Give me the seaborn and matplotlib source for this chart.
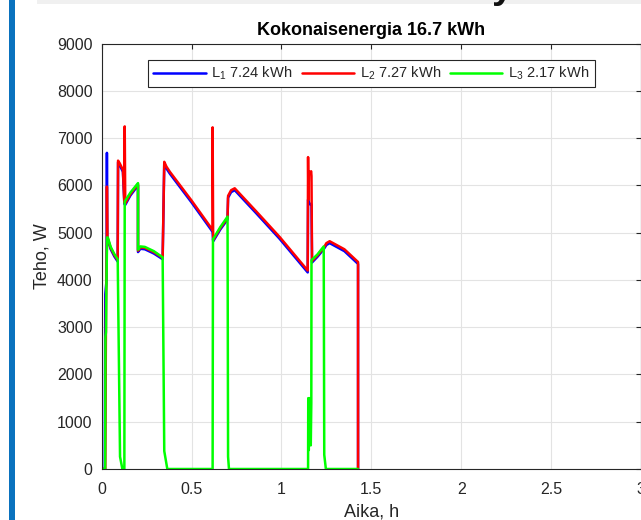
import matplotlib
matplotlib.use("Agg")
import matplotlib.pyplot as plt
from matplotlib.lines import Line2D
from matplotlib.patches import Rectangle
import numpy as np
import pandas as pd
import seaborn as sns

# ---- data ----
t_L1 = [0.000, 0.017, 0.020, 0.027, 0.029, 0.031, 0.034, 0.050, 0.070, 0.089, 0.091, 0.100,
        0.118, 0.126, 0.131, 0.160, 0.202, 0.202, 0.215, 0.240, 0.290, 0.339, 0.348, 0.360,
        0.379, 0.500, 0.611, 0.617, 0.620, 0.622, 0.660, 0.700, 0.703, 0.720, 0.740, 0.860,
        0.990, 1.146, 1.148, 1.151, 1.160, 1.167, 1.170, 1.200, 1.235, 1.250, 1.268, 1.350,
        1.426, 1.426]
p_L1 = [0, 0, 3700, 4000, 6690, 4860, 4850, 4650, 4500, 4390, 6490, 6430,
        6290, 5610, 5590, 5790, 6000, 4590, 4660, 4650, 4560, 4440, 6460, 6360,
        6250, 5640, 5050, 5010, 4820, 4830, 5070, 5280, 5740, 5860, 5900, 5410,
        4870, 4160, 5700, 5650, 5600, 5600, 4370, 4490, 4650, 4740, 4780, 4610,
        4340, 0]

t_L2 = [0.000, 0.020, 0.024, 0.029, 0.029, 0.031, 0.034, 0.050, 0.070, 0.089, 0.091, 0.100,
        0.118, 0.126, 0.128, 0.131, 0.160, 0.202, 0.202, 0.215, 0.240, 0.290, 0.339, 0.348,
        0.360, 0.379, 0.500, 0.611, 0.617, 0.617, 0.620, 0.622, 0.660, 0.700, 0.703, 0.720,
        0.740, 0.860, 0.990, 1.146, 1.148, 1.150, 1.153, 1.160, 1.165, 1.167, 1.170, 1.200,
        1.235, 1.250, 1.268, 1.350, 1.426, 1.426]
p_L2 = [0, 0, 3500, 4800, 5975, 4880, 4880, 4680, 4530, 4420, 6525, 6470,
        6330, 5640, 7250, 5620, 5820, 6030, 4620, 4690, 4680, 4590, 4470, 6500,
        6400, 6290, 5680, 5090, 5050, 7230, 4850, 4860, 5100, 5310, 5780, 5900,
        5940, 5450, 4910, 4200, 6600, 5700, 6300, 6250, 6300, 6200, 4400, 4520,
        4680, 4780, 4820, 4650, 4380, 0]

t_L3 = [0.000, 0.019, 0.021, 0.024, 0.026, 0.030, 0.034, 0.050, 0.070, 0.089, 0.102, 0.115,
        0.126, 0.128, 0.160, 0.202, 0.202, 0.215, 0.240, 0.290, 0.339, 0.348, 0.365, 0.617,
        0.619, 0.622, 0.660, 0.700, 0.703, 0.708, 1.148, 1.149, 1.152, 1.155, 1.160, 1.163,
        1.166, 1.167, 1.200, 1.235, 1.238, 1.247, 1.426]
p_L3 = [0, 0, 2800, 2900, 3800, 4900, 4900, 4700, 4550, 4440, 260, 0,
        0, 5660, 5850, 6050, 4640, 4710, 4700, 4610, 4480, 380, 0, 0,
        4870, 4880, 5120, 5340, 260, 0, 0, 1500, 400, 1500, 1300, 500,
        1400, 4420, 4540, 4710, 300, 0, 0]

phase_names = ["L1", "L2", "L3"]
energy_kwh = [7.24, 7.27, 2.17]
total_kwh = 16.7
phase_colors = ["#0000FF", "#FF0000", "#00FF00"]

x_ticks = [0, 0.5, 1, 1.5, 2, 2.5, 3]
x_tick_labels = ["0", "0.5", "1", "1.5", "2", "2.5", "3"]
y_ticks = list(range(0, 9001, 1000))

title_text = f"Kokonaisenergia {total_kwh} kWh"
x_label = "Aika, h"
y_label = "Teho, W"

# ---- build table ----
frames = []
for name, tt, pp in zip(phase_names, [t_L1, t_L2, t_L3], [p_L1, p_L2, p_L3]):
    frames.append(pd.DataFrame({"t": tt, "p": pp, "phase": name}))
df = pd.concat(frames, ignore_index=True)

# ---- style ----
sns.set_theme(style="white")
plt.rcParams["font.family"] = ["Liberation Sans", "DejaVu Sans"]
plt.rcParams["mathtext.default"] = "regular"

W, H = 641, 520
fig = plt.figure(figsize=(W / 100, H / 100), dpi=100)
fig.patch.set_facecolor("white")

x0, x1 = 101.7, 641.0
y_top, y_bot = 43.7, 469.0
ax = fig.add_axes([x0 / W, 1 - y_bot / H, (x1 - x0) / W, (y_bot - y_top) / H])

palette = dict(zip(phase_names, phase_colors))
sns.lineplot(data=df, x="t", y="p", hue="phase", hue_order=phase_names,
             palette=palette, sort=False, estimator=None, legend=False,
             linewidth=1.8, ax=ax)

ax.set_xlim(0, 3)
ax.set_ylim(0, 9000)
ax.set_xticks(x_ticks)
ax.set_xticklabels(x_tick_labels)
ax.set_yticks(y_ticks)
ax.grid(True, color="#e3e3e3", linewidth=0.8)
ax.set_axisbelow(True)
for s in ax.spines.values():
    s.set_color("#262626")
    s.set_linewidth(0.8)
ax.tick_params(direction="in", length=3.5, width=0.8, colors="#262626",
               labelsize=11.5, top=True, right=True)
ax.tick_params(axis="x", pad=9)
ax.tick_params(axis="y", pad=6.5)
ax.set_xlabel(x_label, fontsize=13, color="#262626", labelpad=5)
ax.set_ylabel(y_label, fontsize=13, color="#262626", labelpad=5)
ax.set_title(title_text, fontsize=13, fontweight="bold", color="black", pad=6)

handles = [Line2D([0], [0], color=c, lw=1.8) for c in phase_colors]
labels = [f"L$_{i + 1}$ {e:.2f} kWh" for i, e in enumerate(energy_kwh)]
leg = ax.legend(handles, labels, ncol=3, loc="upper center",
                bbox_to_anchor=(0.5, 1 - 16 / (y_bot - y_top)), borderaxespad=0,
                fontsize=10.5, handlelength=3.6, handletextpad=0.4,
                columnspacing=0.6, frameon=True, fancybox=False,
                edgecolor="#262626", framealpha=1, borderpad=0.35)
leg.get_frame().set_linewidth(0.8)

# ---- screenshot surroundings ----
fig.patches.append(Rectangle((9 / W, 0), 6 / W, 1, transform=fig.transFigure,
                             facecolor="#0A72BE", edgecolor="none", zorder=0))
fig.patches.append(Rectangle((37 / W, 1 - 4 / H), (W - 37) / W, 4 / H,
                             transform=fig.transFigure, facecolor="#F0F0F0",
                             edgecolor="none", zorder=0))
fig.text(492 / W, 1 + 1.5 / H, "y", fontsize=28, fontweight="bold",
         color="#111111", va="baseline", ha="left")

fig.savefig("out.png", dpi=100)
